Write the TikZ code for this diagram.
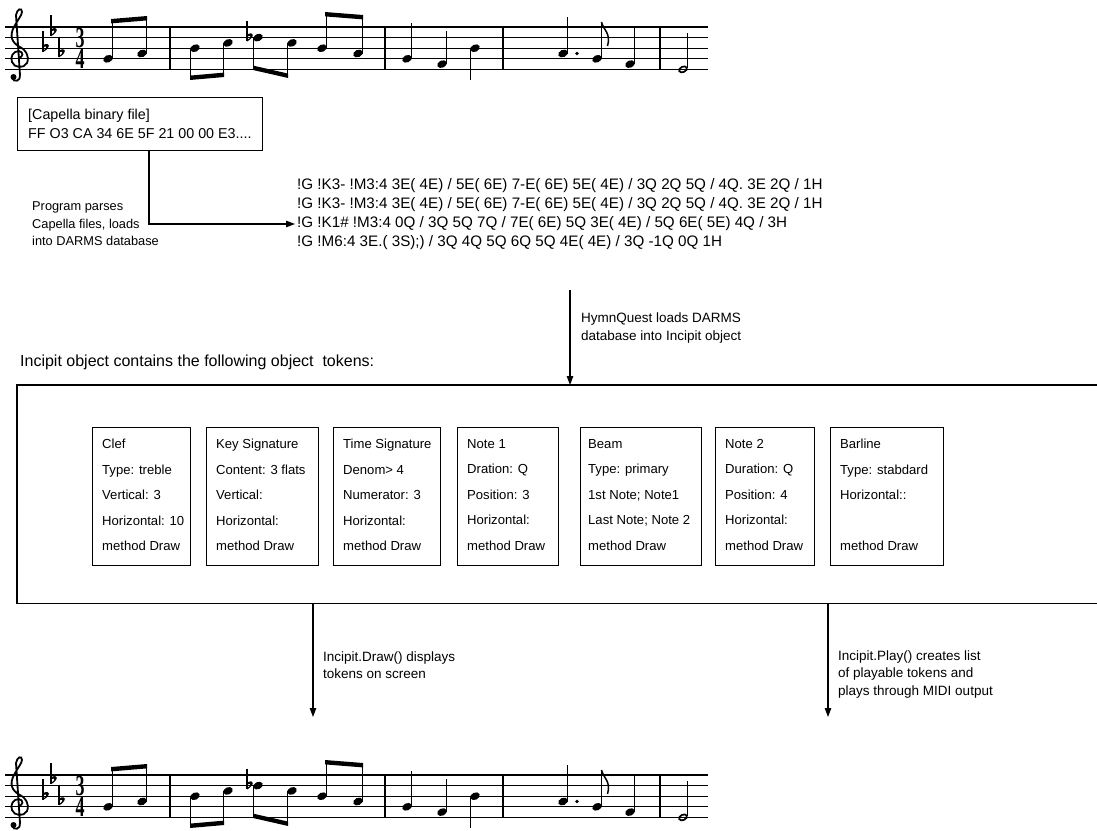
\documentclass[tikz,border=0pt]{standalone}
\usepackage{fontspec}
\setmainfont{Liberation Sans}
\newfontfamily\numfont{Liberation Serif}
\usepackage{graphicx}
\usetikzlibrary{arrows.meta}
% staff position (DARMS code) -> y below top staff line
\newcommand\py[1]{\fpeval{42.4-(#1-1)*5.3}}
\newcommand\nhd[2]{\fill[rotate around={25:(#1,\py{#2})}] (#1,\py{#2}) ellipse (5.0 and 3.6);}
\newcommand\nhdo[2]{\draw[line width=1.7pt,rotate around={25:(#1,\py{#2})}] (#1,\py{#2}) ellipse (4.1 and 2.7);}
\newcommand\stup[3]{\draw[line width=1.2pt] ({#1+4.4},\py{#2}) -- ({#1+4.4},#3);}
\newcommand\stdn[3]{\draw[line width=1.2pt] ({#1-4.4},\py{#2}) -- ({#1-4.4},#3);}
\newcommand\bm[4]{\fill (#1,#2) -- (#3,#4) -- (#3,{#4+4.4}) -- (#1,{#2+4.4}) -- cycle;}
\newcommand\flatsym[2]{%
  \draw[line width=1.1pt] (#1,{#2-17}) -- (#1,{#2+3.8});
  \fill (#1,{#2+3.9}) .. controls ({#1+8},{#2-0.5}) and ({#1+7.5},{#2-7}) .. (#1,{#2-3}) -- (#1,{#2-1}) .. controls ({#1+4.8},{#2-3.8}) and ({#1+4.2},{#2+0.8}) .. (#1,{#2+2.4}) -- cycle;}
\newcommand\bline[1]{\draw[line width=1.2pt] (#1,0) -- (#1,42.4);}
\newcommand\musicline[1]{%
\begin{scope}[shift={(0,#1)}]
  \foreach \k in {0,1,2,3,4} \draw[line width=1.2pt] (5,{\k*10.6}) -- (708,{\k*10.6});
  % clef
  \draw[line width=1.8pt,line cap=round] (19,31) .. controls (23,30) and (24,25) .. (19,24)
     .. controls (13,24) and (10,30) .. (12,35)
     .. controls (14,41) and (24,42) .. (27,36)
     .. controls (30,29) and (25,22) .. (20,20)
     .. controls (12,16) and (9,9) .. (14,0)
     .. controls (17,-6) and (22,-12) .. (22,-15)
     .. controls (22,-20) and (17,-18) .. (16,-12)
     -- (20,48) .. controls (21,54) and (14,56) .. (12,51);
  \fill (13.5,50) circle (3);
  % key signature
  \flatsym{43}{\py{5}}
  \flatsym{51}{\py{8}}
  \flatsym{59}{\py{4}}
  % time signature
  \node[inner sep=0pt, xscale=0.62, transform shape, font=\numfont\bfseries\fontsize{29}{29}\selectfont] (tsa) at (80,10.6) {3};
  \node[inner sep=0pt, xscale=0.62, transform shape, font=\numfont\bfseries\fontsize{29}{29}\selectfont] (tsb) at (80,31.8) {4};
  % measure 1
  \nhd{108}{3}\stup{108}{3}{-8}
  \nhd{142}{4}\stup{142}{4}{-11}
  \bm{111}{-8}{147}{-11}
  \bline{170}
  % measure 2
  \nhd{195}{5}\stdn{195}{5}{53}
  \nhd{228}{6}\stdn{228}{6}{50}
  \bm{190}{48.6}{224.2}{45.6}
  \flatsym{247}{\py{7}}
  \nhd{258}{7}\stdn{258}{7}{43}
  \nhd{292}{6}\stdn{292}{6}{51}
  \bm{253}{38.6}{288.2}{46.6}
  \nhd{322}{5}\stup{322}{5}{-15}
  \nhd{358}{4}\stup{358}{4}{-12}
  \bm{325}{-15}{363}{-12}
  \bline{385}
  % measure 3
  \nhd{407}{3}\stup{407}{3}{-4}
  \nhd{442}{2}\stup{442}{2}{4}
  \nhd{475}{5}\stdn{475}{5}{53}
  \bline{503}
  % measure 4
  \nhd{563}{4}\stup{563}{4}{-10}
  \fill (577,\py{4}) circle (1.9);
  \nhd{597}{3}\stup{597}{3}{-5}
  \draw[line width=1.5pt] (601.4,-5) .. controls (602.5,2) and (611.5,6) .. (607.5,19);
  \nhd{630}{2}\stup{630}{2}{0}
  \bline{660}
  % measure 5
  \nhdo{683}{1}\draw[line width=1.2pt] (687.2,41) -- (687.2,6);
\end{scope}}
\begin{document}
\begin{tikzpicture}[x=1pt,y=-1pt,
  conn/.style={line width=1.1pt},
  arr/.style={conn,-{Triangle[length=9pt,width=6.5pt]}},
  lbl/.style={inner sep=0pt, anchor=west, align=left, font=\fontsize{13.5}{17.5}\selectfont},
  darms/.style={inner sep=0pt, anchor=west, font=\fontsize{15.2}{17}\selectfont},
  tokbox/.style={draw, line width=1.3pt, anchor=north west, minimum height=138pt, minimum width=#1, inner sep=0pt},
  toktxt/.style={anchor=north west, inner sep=0pt, align=left, font=\fontsize{13.1}{25.5}\selectfont},
]
\fill[white] (0,0) rectangle (1097,830);
\path[use as bounding box] (0,0) rectangle (1097,830);

\musicline{27}

% Capella box
\node[draw, line width=1.3pt, anchor=north west, minimum height=53pt, minimum width=245pt, inner sep=0pt] (cap) at (17,97) {};
\node[anchor=west, inner sep=0pt, align=left, font=\fontsize{14.3}{19}\selectfont] (captxt) at ([xshift=11pt]cap.west) {[Capella binary file]\\FF O3 CA 34 6E 5F 21 00 00 E3....};

% DARMS lines
\node[darms] (d1) at (297,186) {!G !K3- !M3:4 3E( 4E) / 5E( 6E) 7-E( 6E) 5E( 4E) / 3Q 2Q 5Q / 4Q. 3E 2Q / 1H};
\node[darms] (d2) at (297,205) {!G !K3- !M3:4 3E( 4E) / 5E( 6E) 7-E( 6E) 5E( 4E) / 3Q 2Q 5Q / 4Q. 3E 2Q / 1H};
\node[darms] (d3) at (297,224) {!G !K1\# !M3:4 0Q / 3Q 5Q 7Q / 7E( 6E) 5Q 3E( 4E) / 5Q 6E( 5E) 4Q / 3H};
\node[darms] (d4) at (297,243) {!G !M6:4 3E.( 3S);) / 3Q 4Q 5Q 6Q 5Q 4E( 4E) / 3Q -1Q 0Q 1H};

\node[lbl, font=\fontsize{12.8}{17.5}\selectfont] (parse) at (32,224) {Program parses\\Capella files, loads\\into DARMS database};
\coordinate (c1) at (149,224);
\draw[arr] (cap.south -| c1) |- ([xshift=-2pt]d3.west);

% big incipit object box
\node[lbl, font=\fontsize{16}{17.5}\selectfont] (inclbl) at (20,362) {Incipit object contains the following object\ \ tokens:};
\node[anchor=north west, minimum width=1080pt, minimum height=218pt, inner sep=0pt] (big) at (17,385) {};
\draw[line width=1.4pt] (big.north east) -- (big.north west) -- (big.south west) -- (big.south east);

\coordinate (h0) at (570,290);
\draw[arr] (h0) -- (h0 |- big.north);
\node[lbl] (hq) at (581,328) {HymnQuest loads DARMS\\database into Incipit object};

% tokens
\node[tokbox=98pt] (t1) at (92,427) {};
\node[tokbox=112pt] (t2) at (206,427) {};
\node[tokbox=107pt] (t3) at (333,427) {};
\node[tokbox=101pt] (t4) at (457,427) {};
\node[tokbox=121pt] (t5) at (580,427) {};
\node[tokbox=99pt] (t6) at (715,427) {};
\node[tokbox=113pt] (t7) at (830,427) {};
\node[toktxt] (t1x) at ([xshift=10pt,yshift=-12pt]t1.north west) {Clef\\Type: treble\\Vertical: 3\\Horizontal: 10\\method Draw};
\node[toktxt] (t2x) at ([xshift=10pt,yshift=-12pt]t2.north west) {Key Signature\\Content: 3 flats\\Vertical:\\Horizontal:\\method Draw};
\node[toktxt] (t3x) at ([xshift=10pt,yshift=-12pt]t3.north west) {Time Signature\\Denom> 4\\Numerator: 3\\Horizontal:\\method Draw};
\node[toktxt] (t4x) at ([xshift=10pt,yshift=-12pt]t4.north west) {Note 1\\Dration: Q\\Position: 3\\Horizontal:\\method Draw};
\node[toktxt] (t5x) at ([xshift=8pt,yshift=-12pt]t5.north west) {Beam\\Type: primary\\1st Note; Note1\\Last Note; Note 2\\method Draw};
\node[toktxt] (t6x) at ([xshift=10pt,yshift=-12pt]t6.north west) {Note 2\\Duration: Q\\Position: 4\\Horizontal:\\method Draw};
\node[toktxt] (t7x) at ([xshift=10pt,yshift=-12pt]t7.north west) {Barline\\Type: stabdard\\Horizontal::\\\mbox{}\\method Draw};

% bottom arrows
\coordinate (e1) at (313,717);
\draw[arr] (big.south -| e1) -- (e1);
\node[lbl] (drawlbl) at (323,665) {Incipit.Draw() displays\\tokens on screen};
\coordinate (e2) at (828,717);
\draw[arr] (big.south -| e2) -- (e2);
\node[lbl] (playlbl) at (838,674) {Incipit.Play() creates list\\of playable tokens and\\plays through MIDI output};

\musicline{775}
\end{tikzpicture}
\end{document}
